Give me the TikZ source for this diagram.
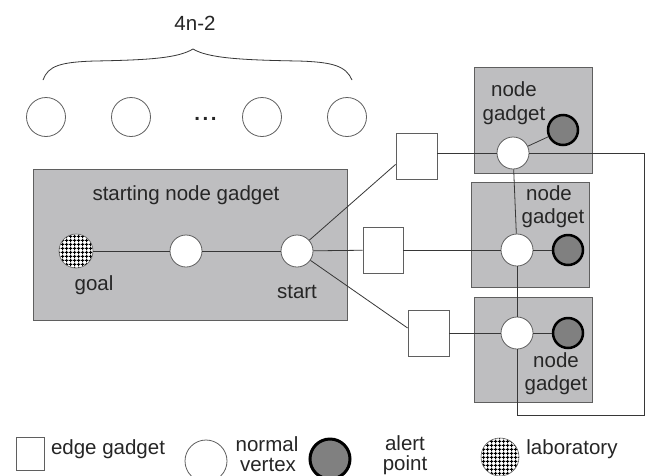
\documentclass[tikz,border=0pt]{standalone}
\usepackage{fontspec}
\setmainfont{Liberation Sans}
\usetikzlibrary{patterns}
\pgfdeclarepatternformonly{labgrid}{\pgfqpoint{0pt}{0pt}}{\pgfqpoint{3.6pt}{3.6pt}}{\pgfqpoint{3.6pt}{3.6pt}}{%
  \pgfsetlinewidth{1.05pt}%
  \pgfpathmoveto{\pgfqpoint{0pt}{1.8pt}}\pgfpathlineto{\pgfqpoint{3.6pt}{1.8pt}}%
  \pgfpathmoveto{\pgfqpoint{1.8pt}{0pt}}\pgfpathlineto{\pgfqpoint{1.8pt}{3.6pt}}%
  \pgfusepath{stroke}}
\definecolor{gfill}{RGB}{190,190,192}
\definecolor{gedge}{RGB}{95,95,95}
\definecolor{afill}{RGB}{128,128,128}
\definecolor{linec}{RGB}{55,55,55}
\tikzset{
  txt/.style={font=\fontsize{20.5}{24}\selectfont, inner sep=0pt, anchor=base, text=black!85},
  gbox/.style={draw=gedge, fill=gfill, line width=0.8pt, inner sep=0pt},
  nvx/.style={circle, draw=gedge, fill=white, line width=0.8pt, minimum size=32pt, inner sep=0pt},
  alertpt/.style={circle, draw=black, fill=afill, line width=2.5pt, minimum size=30pt, inner sep=0pt},
  labpt/.style={circle, draw=gedge, line width=0.6pt, preaction={fill=white}, pattern=labgrid, minimum size=34pt, inner sep=0pt},
  egad/.style={draw=gedge, fill=white, line width=0.8pt, inner sep=0pt},
  conn/.style={draw=linec, line width=0.8pt}
}
\begin{document}
\begin{tikzpicture}[x=1pt,y=-1pt]
\fill[white] (0,0) rectangle (648,475);
\useasboundingbox (0,0) rectangle (648,475);

% top row
\node[txt] (n42) at (195,30) {4n-2};
\draw[conn] (43,80) .. controls (48,66) and (60,62) .. (95,61) .. controls (150,60) and (178,58) .. (193,49);
\draw[conn] (193,49) .. controls (208,58) and (240,60) .. (298,61) .. controls (333,62) and (346,66) .. (352,80);
\node[nvx, minimum size=39pt] (t1) at (46,117) {};
\node[nvx, minimum size=39pt] (t2) at (131,117) {};
\node[txt, font=\fontsize{20.5}{24}\selectfont\bfseries] (dots) at (205.5,120) {.\hspace{2.5pt}.\hspace{2.5pt}.};
\node[nvx, minimum size=39pt] (t3) at (262,117) {};
\node[nvx, minimum size=39pt] (t4) at (347,117) {};

% starting node gadget
\node[gbox, minimum width=314pt, minimum height=151pt] (sg) at (190,244.5) {};
\node[txt] (sgl) at (186,200) {starting node gadget};
\node[labpt] (goal) at (76,251) {};
\node[nvx] (mid) at (186,251) {};
\node[nvx] (start) at (297,251) {};
\node[txt] (goall) at (94,290) {goal};
\node[txt] (startl) at (297,298) {start};

% node gadgets
\node[gbox, minimum width=118pt, minimum height=106pt] (ng1) at (533,120) {};
\node[gbox, minimum width=118pt, minimum height=105pt] (ng2) at (530,234.5) {};
\node[gbox, minimum width=118pt, minimum height=105pt] (ng3) at (533,349.5) {};
\node[txt] (ng1a) at (514,96) {node};
\node[txt] (ng1b) at (514,120) {gadget};
\node[txt] (ng2a) at (549,200) {node};
\node[txt] (ng2b) at (553,223) {gadget};
\node[txt] (ng3a) at (556,367) {node};
\node[txt] (ng3b) at (556,390) {gadget};

\node[nvx] (nv1) at (513,153) {};
\node[nvx] (nv2) at (517,250) {};
\node[nvx] (nv3) at (517,333) {};
\node[alertpt] (a1) at (563,130) {};
\node[alertpt] (a2) at (568,250) {};
\node[alertpt] (a3) at (568,333) {};

% edge gadgets
\node[egad, minimum width=41pt, minimum height=46pt] (e1) at (416.5,156) {};
\node[egad, minimum width=40pt, minimum height=46pt] (e2) at (383,250) {};
\node[egad, minimum width=41pt, minimum height=46pt] (e3) at (428.5,333) {};

\coordinate (cr) at (644,415);

% connectors
\draw[conn] (goal) -- (mid) -- (start);
\draw[conn] (start) -- ([yshift=15pt]e1.south west);
\draw[conn] (start) -- (e2);
\draw[conn] (start) -- ([yshift=5pt]e3.west);
\draw[conn] (e1.east |- nv1) -- (nv1);
\draw[conn] (e2) -- (nv2);
\draw[conn] (e3) -- (nv3);
\draw[conn] (nv1) -- (a1);
\draw[conn] (nv2) -- (a2);
\draw[conn] (nv3) -- (a3);
\draw[conn] (nv1) -- (nv2);
\draw[conn] (nv2) -- (nv3);
\draw[conn] (nv1.east) -| (cr) -| (nv3.south);

% legend
\node[egad, minimum width=28pt, minimum height=33pt] (lsq) at (30,453.5) {};
\node[txt] (lsqt) at (108,454) {edge gadget};
\node[nvx, minimum size=42pt] (lnv) at (206,461) {};
\node[txt] (lnvt1) at (267,451) {normal};
\node[txt] (lnvt2) at (268,471) {vertex};
\node[alertpt, minimum size=40pt, line width=3pt] (lal) at (330,459) {};
\node[txt] (lalt1) at (405,450) {alert};
\node[txt] (lalt2) at (405,470) {point};
\node[labpt, minimum size=38pt] (llab) at (500,457) {};
\node[txt] (llabt) at (572,454) {laboratory};
\end{tikzpicture}
\end{document}
